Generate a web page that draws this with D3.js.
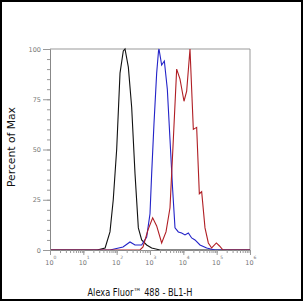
<!DOCTYPE html>
<html>
<head>
<meta charset="utf-8">
<script src="https://cdn.jsdelivr.net/npm/d3@7"></script>
<style>
  html, body { margin: 0; padding: 0; background: #fff; }
  svg { display: block; }
</style>
</head>
<body>
<div id="chart"></div>
<script>
const width = 303;
const height = 301;
const margin = { top: 49, right: 53, bottom: 51, left: 50 };

// histogram outlines, fluorescence (BL1-H) vs percent of max
const blackX = [1, 26, 45, 63, 79, 100, 126, 158, 178, 224, 282, 355, 447, 562, 794, 1122, 1995, 1000000];
const blackY = [0, 0, 1, 9, 25, 50, 88, 99, 100, 91, 71, 38, 11, 5, 2.5, 1, 0, 0];

const blueX = [1, 63, 155, 251, 355, 562, 794, 1000, 1122, 1318, 1585, 1800, 1862, 2239, 2692, 3311, 3981, 4786, 5623, 7079, 8913, 11220, 14125, 17783, 22387, 31623, 50119, 89125, 1000000];
const blueY = [0, 0, 1.5, 4, 2.5, 2.5, 6.5, 18, 38, 63, 88, 99, 100, 92, 94, 80, 55, 30, 11, 9, 8.5, 7.5, 8.5, 6, 5, 2.5, 1, 0, 0];

const redX = [1, 501, 617, 871, 1202, 1585, 2239, 3020, 3981, 5012, 6310, 7943, 10471, 12589, 15849, 19953, 25119, 30200, 35481, 44668, 56234, 70795, 98000, 121619, 154882, 1000000];
const redY = [0, 0, 1.5, 10, 16, 12, 3.5, 9, 21, 55, 90, 85, 74, 79, 100, 60, 61, 28, 29, 11, 3.5, 1, 3.5, 2, 0, 0];

const xTicks = [1, 10, 100, 1000, 10000, 100000, 1000000];
const yTicks = [0, 25, 50, 75, 100];

const svg = d3.select("#chart")
  .append("svg")
  .attr("width", width)
  .attr("height", height);

svg.append("rect")
  .attr("x", 1).attr("y", 1)
  .attr("width", width - 2).attr("height", height - 2)
  .attr("fill", "#fff")
  .attr("stroke", "#000")
  .attr("stroke-width", 2);

const xScale = d3.scaleLog()
  .domain([1, 1000000])
  .range([margin.left, width - margin.right]);

const yScale = d3.scaleLinear()
  .domain([0, 100])
  .range([height - margin.bottom, margin.top]);

// frame top + right
svg.append("path")
  .attr("d", `M${xScale(1)},${yScale(100)}H${xScale(1000000)}V${yScale(0)}`)
  .attr("fill", "none")
  .attr("stroke", "#999")
  .attr("stroke-width", 1);

const line = d3.line()
  .x(d => xScale(d[0]))
  .y(d => yScale(d[1]))
  .curve(d3.curveLinear);

const series = [
  { xs: blackX, ys: blackY, color: "#111" },
  { xs: blueX, ys: blueY, color: "#2323c8" },
  { xs: redX, ys: redY, color: "#b01e24" }
];

svg.selectAll("path.curve")
  .data(series)
  .enter()
  .append("path")
  .attr("class", "curve")
  .attr("d", s => line(s.xs.map((x, i) => [x, s.ys[i]])))
  .attr("fill", "none")
  .attr("stroke", s => s.color)
  .attr("stroke-width", 1.1);

// y axis
const yMinor = d3.range(0, 101, 5);
const yAxis = d3.axisLeft(yScale).tickValues(yMinor).tickSize(3).tickFormat("");
svg.append("g")
  .attr("transform", `translate(${margin.left},0)`)
  .call(yAxis)
  .call(g => g.select(".domain").attr("stroke", "#888"))
  .call(g => g.selectAll(".tick line").attr("stroke", "#999"));

const yMajor = d3.axisLeft(yScale).tickValues(yTicks).tickSize(7).tickPadding(2);
svg.append("g")
  .attr("transform", `translate(${margin.left},0)`)
  .call(yMajor)
  .call(g => g.select(".domain").remove())
  .call(g => g.selectAll(".tick line").attr("stroke", "#999"))
  .call(g => g.selectAll(".tick text")
    .attr("fill", "#777")
    .attr("font-family", "DejaVu Sans, sans-serif")
    .attr("font-size", 6.5));

// x axis
const xMinor = [];
xTicks.slice(0, -1).forEach(t => { for (let k = 1; k < 10; k++) xMinor.push(t * k); });
xMinor.push(1000000);
const xAxis = d3.axisBottom(xScale).tickValues(xMinor).tickSize(3).tickFormat("");
svg.append("g")
  .attr("transform", `translate(0,${yScale(0)})`)
  .call(xAxis)
  .call(g => g.select(".domain").attr("stroke", "#888"))
  .call(g => g.selectAll(".tick line").attr("stroke", "#999"));

const xMajor = d3.axisBottom(xScale).tickValues(xTicks).tickSize(5).tickFormat("");
const gx = svg.append("g")
  .attr("transform", `translate(0,${yScale(0)})`)
  .call(xMajor)
  .call(g => g.select(".domain").remove())
  .call(g => g.selectAll(".tick line").attr("stroke", "#999"));

gx.selectAll(".tick").append("text")
  .attr("x", -1)
  .attr("y", 15)
  .attr("text-anchor", "middle")
  .attr("fill", "#777")
  .attr("font-family", "DejaVu Sans, sans-serif")
  .attr("font-size", 6.5)
  .text("10");
gx.selectAll(".tick").append("text")
  .attr("x", 3)
  .attr("y", 9)
  .attr("text-anchor", "start")
  .attr("fill", "#777")
  .attr("font-family", "DejaVu Sans, sans-serif")
  .attr("font-size", 4.5)
  .text(d => Math.round(Math.log10(d)));

// axis titles
svg.append("text")
  .attr("x", 140)
  .attr("y", 296)
  .attr("text-anchor", "middle")
  .attr("font-family", "DejaVu Sans, sans-serif")
  .attr("font-size", 10.5)
  .attr("textLength", 105)
  .attr("lengthAdjust", "spacingAndGlyphs")
  .attr("fill", "#111")
  .text("Alexa Fluor™ 488 - BL1-H");

svg.append("text")
  .attr("transform", "translate(15,147) rotate(-90)")
  .attr("text-anchor", "middle")
  .attr("font-family", "DejaVu Sans, sans-serif")
  .attr("font-size", 10.5)
  .attr("textLength", 80)
  .attr("lengthAdjust", "spacingAndGlyphs")
  .attr("fill", "#111")
  .text("Percent of Max");
</script>
</body>
</html>
